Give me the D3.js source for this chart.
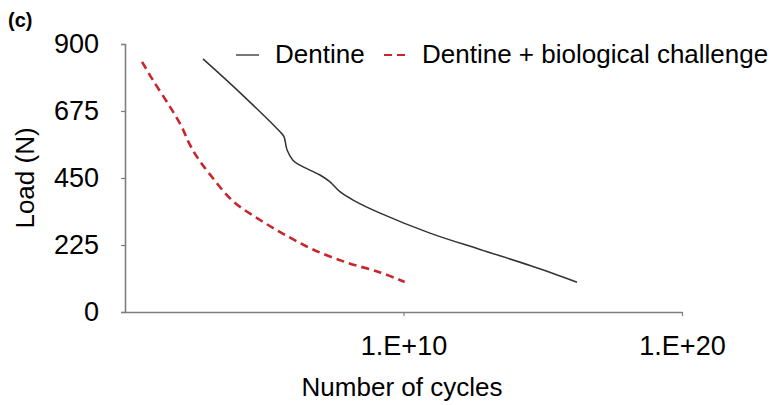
<!DOCTYPE html>
<html>
<head>
<meta charset="utf-8">
<script src="https://cdn.jsdelivr.net/npm/d3@7"></script>
<style>
  html, body { margin: 0; padding: 0; background: #fff; }
  svg { display: block; font-family: "Liberation Sans", Arial, Helvetica, sans-serif; }
</style>
</head>
<body>
<svg id="chart" width="774" height="405"></svg>
<script>
// ---- data ----
const seriesNames = ["Dentine", "Dentine + biological challenge"];
const dentineCycles = [6.3e2, 1.05e4, 3.7e5, 5.1e5, 6.6e5, 1.07e6, 1.9e6, 1.0e7, 2.3e7, 5.2e7, 1.55e8, 1.45e9, 8.9e10, 5.6e12, 3.5e14, 1.7e16];
const dentineLoad   = [850, 746, 605, 589, 544, 510, 493, 460, 437, 404, 376, 332, 265, 210, 156, 100];
const bioCycles = [4.1e0, 1.0e1, 4.2e1, 1.1e2, 2.0e2, 3.9e2, 1.1e3, 7.6e3, 7.1e4, 5.6e5, 5.6e6, 9.3e7, 1.45e9, 1.1e10];
const bioLoad   = [840, 779, 688, 621, 567, 520, 463, 372, 309, 259, 210, 166, 133, 101];
const yTicks = [0, 225, 450, 675, 900];
const xTicks = [1e10, 1e20];
const xTickLabels = ["1.E+10", "1.E+20"];

// ---- layout ----
const svg = d3.select("#chart");
const x = d3.scaleLog().domain([1, 1e20]).range([125, 682]);
const y = d3.scaleLinear().domain([0, 900]).range([312, 44]);
const axisColor = "#7f7f7f";

// panel label
svg.append("text").attr("x", 8).attr("y", 27).attr("font-size", 20).attr("font-weight", "bold").text("(c)");

// y axis
const yAxis = svg.append("g").attr("transform", "translate(125,0)")
  .call(d3.axisLeft(y).tickValues(yTicks).tickSize(4).tickPadding(22).tickFormat(d3.format("d")));
yAxis.attr("font-family", null);
yAxis.select(".domain").attr("stroke", axisColor).attr("stroke-width", 1.6);
yAxis.selectAll(".tick line").attr("stroke", axisColor).attr("stroke-width", 1.2);
yAxis.selectAll(".tick text").attr("font-size", 27).attr("fill", "#000");

// x axis
const xAxis = svg.append("g").attr("transform", "translate(0,312)")
  .call(d3.axisBottom(x).tickValues(xTicks).tickSize(4).tickSizeOuter(0).tickPadding(20)
    .tickFormat((d, i) => xTickLabels[i]));
xAxis.attr("font-family", null);
xAxis.select(".domain").attr("stroke", axisColor).attr("stroke-width", 1.6);
xAxis.selectAll(".tick line").attr("stroke", axisColor).attr("stroke-width", 1.2);
xAxis.selectAll(".tick text").attr("font-size", 27).attr("fill", "#000");

// axis titles
svg.append("text").attr("x", 402).attr("y", 396).attr("text-anchor", "middle")
  .attr("font-size", 26).text("Number of cycles");
svg.append("text").attr("transform", "translate(34,178) rotate(-90)").attr("text-anchor", "middle")
  .attr("font-size", 26).text("Load (N)");

// lines
const line = d3.line().x(d => x(d[0])).y(d => y(d[1])).curve(d3.curveCatmullRom.alpha(0.5));
svg.append("path").datum(dentineCycles.map((c, i) => [c, dentineLoad[i]]))
  .attr("d", line).attr("fill", "none").attr("stroke", "#333").attr("stroke-width", 1.5);
svg.append("path").datum(bioCycles.map((c, i) => [c, bioLoad[i]]))
  .attr("d", line).attr("fill", "none").attr("stroke", "#c8262b").attr("stroke-width", 2.6)
  .attr("stroke-dasharray", "8,5");

// legend
const lg = svg.append("g");
lg.append("line").attr("x1", 236).attr("x2", 259).attr("y1", 55).attr("y2", 55)
  .attr("stroke", "#555").attr("stroke-width", 1.6);
lg.append("text").attr("x", 275).attr("y", 63).attr("font-size", 26).text(seriesNames[0]);
lg.append("line").attr("x1", 384).attr("x2", 406).attr("y1", 55).attr("y2", 55)
  .attr("stroke", "#c8262b").attr("stroke-width", 2).attr("stroke-dasharray", "8,5");
lg.append("text").attr("x", 422).attr("y", 63).attr("font-size", 26).text(seriesNames[1]);
</script>
</body>
</html>
